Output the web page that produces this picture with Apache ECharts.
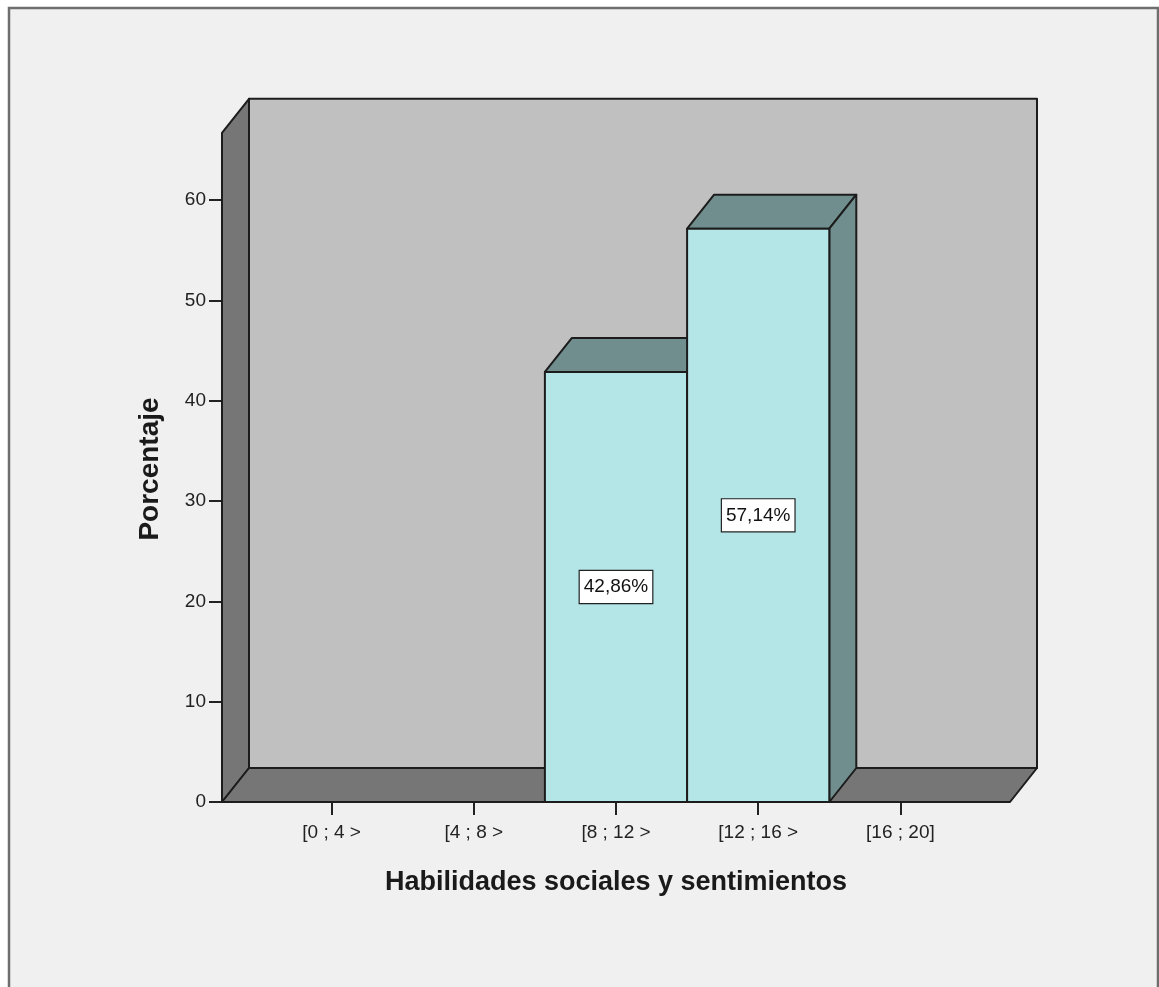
<!DOCTYPE html>
<html>
<head>
<meta charset="utf-8">
<script src="https://cdn.jsdelivr.net/npm/echarts@6/dist/echarts.min.js"></script>
<style>html,body{margin:0;padding:0;background:#fff}#c{width:1159px;height:987px}</style>
</head>
<body>
<div id="c"></div>
<script>
// ---- data ----
const categories = ['[0 ; 4 >', '[4 ; 8 >', '[8 ; 12 >', '[12 ; 16 >', '[16 ; 20]'];
const percentages = [0, 0, 42.86, 57.14, 0];
const valueLabels = ['', '', '42,86%', '57,14%', ''];
const yTicks = [0, 10, 20, 30, 40, 50, 60];
const xTitle = 'Habilidades sociales y sentimientos';
const yTitle = 'Porcentaje';

// ---- layout / style ----
const X_MIN = -0.7707, X_MAX = 4.7707, Y_MAX = 66.7;
const DX = 27, DY = -34;
const EDGE = '#1c1c1c';
const chart = echarts.init(document.getElementById('c'), null, {renderer: 'canvas'});

function wallsRender(params, api) {
  const p0 = api.coord([X_MIN, 0]);
  const p1 = api.coord([X_MAX, 0]);
  const pt = api.coord([X_MIN, Y_MAX]);
  const st = {stroke: EDGE, lineWidth: 2, lineJoin: 'round'};
  return {
    type: 'group',
    children: [
      {type: 'polygon', shape: {points: [[p0[0]+DX, pt[1]+DY], [p1[0]+DX, pt[1]+DY], [p1[0]+DX, p0[1]+DY], [p0[0]+DX, p0[1]+DY]]},
       style: Object.assign({fill: '#c0c0c0'}, st)},
      {type: 'polygon', shape: {points: [[p0[0], p0[1]], [p0[0], pt[1]], [p0[0]+DX, pt[1]+DY], [p0[0]+DX, p0[1]+DY]]},
       style: Object.assign({fill: '#767676'}, st)},
      {type: 'polygon', shape: {points: [[p0[0], p0[1]], [p1[0], p1[1]], [p1[0]+DX, p1[1]+DY], [p0[0]+DX, p0[1]+DY]]},
       style: Object.assign({fill: '#767676'}, st)}
    ]
  };
}

function barRender(params, api) {
  const x = api.value(0), v = api.value(1);
  if (!(v > 0)) return null;
  const bl = api.coord([x - 0.5, 0]);
  const tr = api.coord([x + 0.5, v]);
  const L = bl[0], R = tr[0], B = bl[1], T = tr[1];
  const st = {stroke: EDGE, lineWidth: 2, lineJoin: 'round'};
  const label = valueLabels[params.dataIndex];
  return {
    type: 'group',
    children: [
      {type: 'polygon', shape: {points: [[L, T], [R, T], [R+DX, T+DY], [L+DX, T+DY]]}, style: Object.assign({fill: '#6f8e8d'}, st)},
      {type: 'polygon', shape: {points: [[R, B], [R, T], [R+DX, T+DY], [R+DX, B+DY]]}, style: Object.assign({fill: '#6f8e8d'}, st)},
      {type: 'rect', shape: {x: L, y: T, width: R - L, height: B - T}, style: Object.assign({fill: '#b4e5e7'}, st)},
      {type: 'text', x: (L + R) / 2, y: (T + B) / 2,
       style: {text: label, fill: '#111', font: '19px "Liberation Sans", Arial, sans-serif',
               align: 'center', verticalAlign: 'middle',
               backgroundColor: '#ffffff', borderColor: '#222', borderWidth: 1.2, padding: [7, 4, 6, 4]}}
    ]
  };
}

const option = {
  backgroundColor: '#ffffff',
  animation: false,
  graphic: [{
    type: 'rect', z: -100, silent: true,
    shape: {x: 9, y: 8, width: 1149, height: 1010},
    style: {fill: '#f0f0f0', stroke: '#6e6e6e', lineWidth: 2.5}
  }],
  grid: {left: 222, right: 149, top: 200, bottom: 185, containLabel: false},
  xAxis: {
    type: 'value', min: X_MIN, max: X_MAX,
    name: xTitle, nameLocation: 'middle', nameGap: 67,
    nameTextStyle: {fontFamily: '"Liberation Sans", Arial, sans-serif', fontWeight: 'bold', fontSize: 27, color: '#1a1a1a'},
    axisLine: {show: false},
    axisTick: {show: true, length: 13, customValues: categories.map((c, i) => i), lineStyle: {color: '#222', width: 2}},
    axisLabel: {customValues: categories.map((c, i) => i), formatter: v => categories[Math.round(v)],
                margin: 21, fontSize: 19, color: '#222', fontFamily: '"Liberation Sans", Arial, sans-serif'},
    splitLine: {show: false}
  },
  yAxis: {
    type: 'value', min: yTicks[0], max: yTicks[yTicks.length - 1], interval: 10,
    name: yTitle, nameLocation: 'middle', nameGap: 58,
    nameTextStyle: {fontFamily: '"Liberation Sans", Arial, sans-serif', fontWeight: 'bold', fontSize: 28, color: '#1a1a1a',
                    padding: [0, 0, 0, 64]},
    axisLine: {show: true, onZero: false, lineStyle: {color: EDGE, width: 2}},
    axisTick: {show: true, inside: false, length: 13, customValues: yTicks, lineStyle: {color: '#222', width: 2}},
    axisLabel: {customValues: yTicks, margin: 16, fontSize: 19, color: '#222', fontFamily: '"Liberation Sans", Arial, sans-serif'},
    splitLine: {show: false}
  },
  series: [
    {type: 'custom', clip: false, z: 1, renderItem: wallsRender, data: [[0, 0]], silent: true},
    {type: 'custom', clip: false, z: 3, renderItem: barRender,
     data: percentages.map((v, i) => [i, v])}
  ]
};
chart.setOption(option);
</script>
</body>
</html>
